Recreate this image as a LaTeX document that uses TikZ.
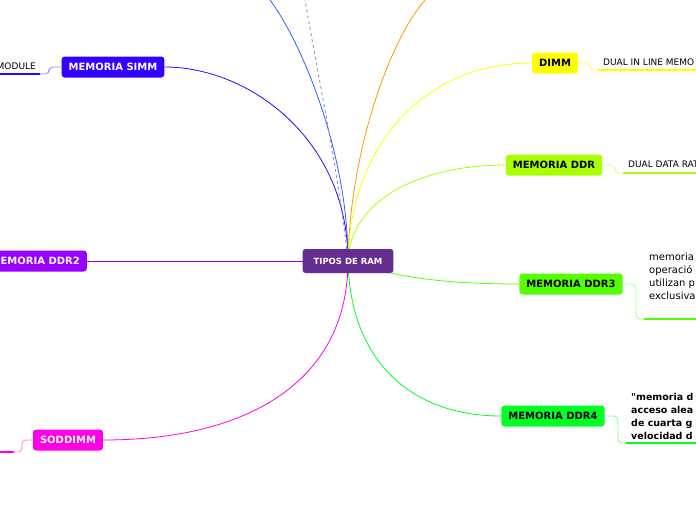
\documentclass[tikz,border=0pt]{standalone}
\usepackage{fontspec}
\setmainfont{DejaVu Sans}
\newfontfamily\plainfont{DejaVu Sans}
\usepackage{xcolor}
\usepackage{tikz}
\usetikzlibrary{positioning,backgrounds}
\definecolor{ramroot}{HTML}{662D91}
\definecolor{ramsimm}{HTML}{3300FF}
\definecolor{ramtwo}{HTML}{9900FF}
\definecolor{ramsod}{HTML}{FF00E6}
\definecolor{ramdimm}{HTML}{FFFF00}
\definecolor{ramddr}{HTML}{AAFF00}
\definecolor{ramthree}{HTML}{55FF00}
\definecolor{ramfour}{HTML}{00FF22}
\definecolor{ramblue}{HTML}{2962FF}
\definecolor{ramorange}{HTML}{FF9900}
\definecolor{ramdash}{HTML}{9B7FC7}

\begin{document}
\begin{tikzpicture}[x=1pt,y=-1pt,
  topic/.style={rounded corners=3pt,inner xsep=7pt,minimum height=21pt,font=\fontsize{10}{12}\selectfont\bfseries},
  twig/.style={line width=0.8pt},
  hook/.style={line width=0.8pt,rounded corners=4pt},
  bar/.style={line width=2.6pt},
  note/.style={anchor=west,inner sep=0pt,font=\fontsize{9}{11}\selectfont}
]
\useasboundingbox (0,0) rectangle (696,520);
% main topic
\node[topic,fill=ramroot,text=white,minimum height=24pt,inner xsep=11pt,font=\fontsize{8.5}{10}\selectfont\bfseries] (root) at (348,261) {TIPOS DE RAM};
% branches
\node[topic,fill=ramsimm,text=white] (simm) at (113,67) {MEMORIA SIMM};
\node[topic,fill=ramtwo,text=white,anchor=east] (ddrtwo) at (87,261) {MEMORIA DDR2};
\node[topic,fill=ramsod,text=white] (sod) at (68,440) {SODDIMM};
\node[topic,fill=ramdimm] (dimm) at (555,63) {DIMM};
\node[topic,fill=ramddr] (ddr) at (554,165) {MEMORIA DDR};
\node[topic,fill=ramthree] (ddrthree) at (571,284) {MEMORIA DDR3};
\node[topic,fill=ramfour] (ddrfour) at (553,416) {MEMORIA DDR4};
% notes
\node[note,anchor=east] (simmnote) at (36,66) {MODULE};
\node[note] (dimmnote) at (603,62) {DUAL IN LINE MEMO};
\node[note] (ddrnote) at (628,164) {DUAL DATA RAT};
\node[note,align=left,font=\fontsize{10}{13}\selectfont] (threenote) at (649,276) {memoria\\operació\\utilizan p\\exclusiva};
\node[note,align=left,font=\plainfont\fontsize{9.5}{13}\selectfont\bfseries] (fournote) at (631,416) {"memoria d\\acceso alea\\de cuarta g\\velocidad d};
% underline ends
\coordinate (simmbar) at (40,74);
\coordinate (sodbar) at (14,452);
\coordinate (dimmbar) at (598,70);
\coordinate (ddrbar) at (623,173);
\coordinate (threebar) at (644,319);
\coordinate (fourbar) at (626,443);
\coordinate (blueend) at (270,0);
\coordinate (dashend) at (305,0);
\coordinate (orangeend) at (425,0);

\begin{scope}[on background layer]
\draw[twig,ramsimm] (root.center) .. controls (348,140) and (250,67) .. (simm.east);
\draw[twig,ramblue] (root.center) .. controls (348,150) and (300,40) .. (blueend);
\draw[twig,ramdash,dashed] (root.center) .. controls (340,180) and (315,60) .. (dashend);
\draw[twig,ramorange] (root.center) .. controls (350,150) and (390,40) .. (orangeend);
\draw[twig,ramdimm] (root.center) .. controls (350,150) and (420,63) .. (dimm.west);
\draw[twig,ramddr] (root.center) .. controls (350,200) and (420,165) .. (ddr.west);
\draw[twig,ramthree] (root.center) .. controls (400,280) and (460,284) .. (ddrthree.west);
\draw[twig,ramfour] (root.center) .. controls (350,360) and (410,416) .. (ddrfour.west);
\draw[twig,ramsod] (root.center) .. controls (348,380) and (250,440) .. (sod.east);
\draw[twig,ramtwo] (root.center) -- (ddrtwo.east);
\end{scope}

% hooks and underlines
\draw[hook,ramsimm!50] (simm.west) -- (49,67) -- (49,74) -- (simmbar);
\draw[bar,ramsimm] (simmbar) -- (0,74);
\draw[hook,ramsod!50] (sod.west) -- (22,440) -- (22,452) -- (sodbar);
\draw[bar,ramsod] (sodbar) -- (0,452);
\draw[hook,ramdimm!60] (dimm.east) -- (590,63) -- (590,70) -- (dimmbar);
\draw[bar,ramdimm] (dimmbar) -- (696,70);
\draw[hook,ramddr!50] (ddr.east) -- (615,165) -- (615,173) -- (ddrbar);
\draw[bar,ramddr] (ddrbar) -- (696,173);
\draw[hook,ramthree!50] (ddrthree.east) -- (636,284) -- (636,319) -- (threebar);
\draw[bar,ramthree] (threebar) -- (696,319);
\draw[hook,ramfour!50] (ddrfour.east) -- (618,416) -- (618,443) -- (fourbar);
\draw[bar,ramfour] (fourbar) -- (696,443);
\end{tikzpicture}
\end{document}
